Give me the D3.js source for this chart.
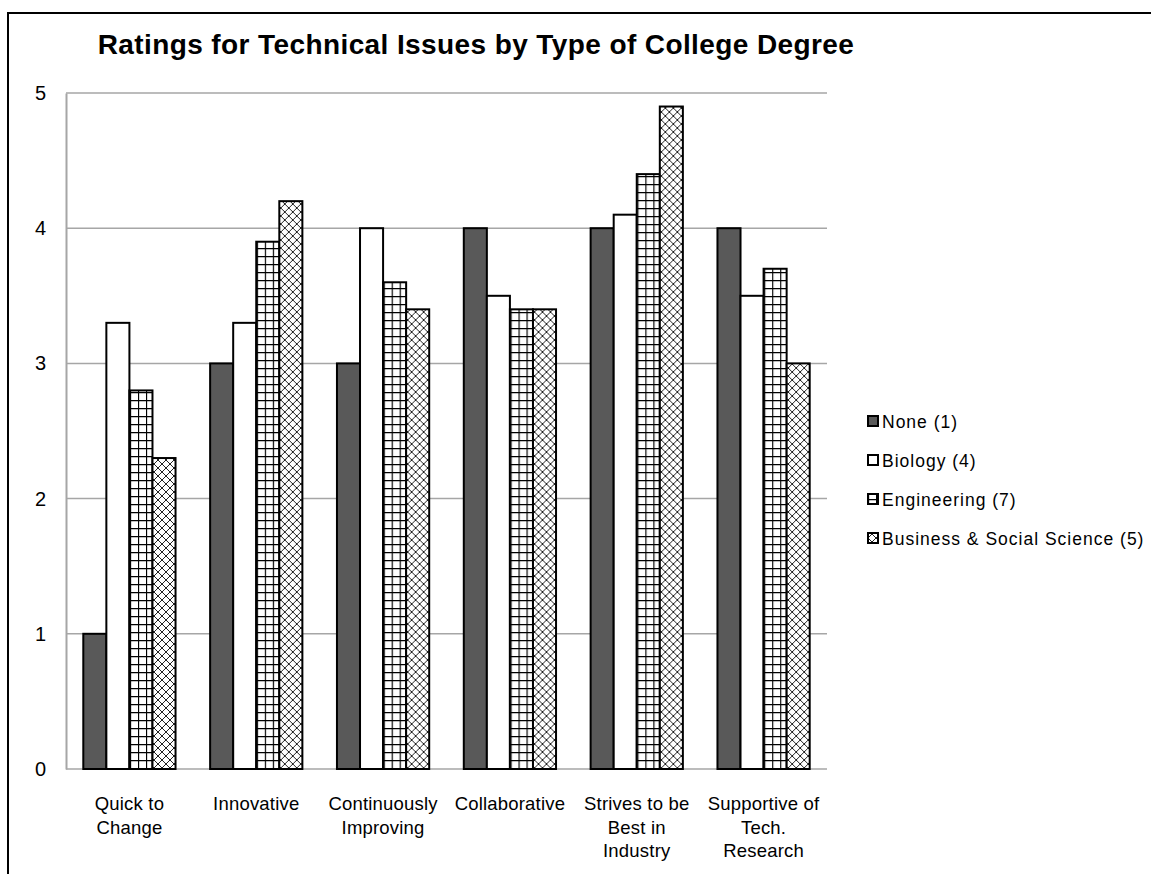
<!DOCTYPE html>
<html>
<head>
<meta charset="utf-8">
<script src="https://cdn.jsdelivr.net/npm/d3@7"></script>
<style>
  html, body { margin: 0; padding: 0; background: #fff; }
  svg { display: block; font-family: "Liberation Sans", Arial, sans-serif; }
</style>
</head>
<body>
<svg id="chart" width="1151" height="874"></svg>
<script>
// Survey ratings per characteristic, grouped by type of college degree
const categories = [
  "Quick to\nChange",
  "Innovative",
  "Continuously\nImproving",
  "Collaborative",
  "Strives to be\nBest in\nIndustry",
  "Supportive of\nTech.\nResearch"
];
const seriesNames = ["None (1)", "Biology (4)", "Engineering (7)", "Business & Social Science (5)"];
const noneValues        = [1.0, 3.0, 3.0, 4.0, 4.0, 4.0];
const biologyValues     = [3.3, 3.3, 4.0, 3.5, 4.1, 3.5];
const engineeringValues = [2.8, 3.9, 3.6, 3.4, 4.4, 3.7];
const businessValues    = [2.3, 4.2, 3.4, 3.4, 4.9, 3.0];
const yTicks = [0, 1, 2, 3, 4, 5];
const title = "Ratings for Technical Issues by Type of College Degree";

const seriesValues = [noneValues, biologyValues, engineeringValues, businessValues];

const svg = d3.select("#chart");

// fills: solid dark, plain white, small grid, diagonal cross-hatch
const defs = svg.append("defs");
const grid = defs.append("pattern").attr("id", "pat-grid")
  .attr("patternUnits", "userSpaceOnUse").attr("width", 8).attr("height", 8);
grid.append("rect").attr("width", 8).attr("height", 8).attr("fill", "#fff");
grid.append("path").attr("d", "M0,0.5H8M0.5,0V8").attr("stroke", "#000").attr("stroke-width", 1.3);

const cross = defs.append("pattern").attr("id", "pat-cross")
  .attr("patternUnits", "userSpaceOnUse").attr("width", 8).attr("height", 8);
cross.append("rect").attr("width", 8).attr("height", 8).attr("fill", "#fff");
cross.append("path").attr("d", "M0,0L8,8M0,8L8,0M-1,1L1,-1M7,9L9,7M-1,7L1,9M7,-1L9,1")
  .attr("stroke", "#222").attr("stroke-width", 1);

const fills = ["#595959", "#ffffff", "url(#pat-grid)", "url(#pat-cross)"];

// outer frame (open on the right and bottom edges of the page)
svg.append("path")
  .attr("d", "M1160,13H8V880")
  .attr("fill", "none").attr("stroke", "#000").attr("stroke-width", 2);

// title
svg.append("text")
  .attr("x", 476).attr("y", 54)
  .attr("text-anchor", "middle")
  .attr("font-size", 28).attr("font-weight", "bold")
  .attr("letter-spacing", 0.4)
  .attr("fill", "#000")
  .text(title);

const plot = { left: 66, right: 827, top: 93, bottom: 769 };

const x0 = d3.scaleBand()
  .domain(categories)
  .range([plot.left, plot.right])
  .padding(0);
// each category slot: gap of 1.5 bar widths split around four bars
const slot = x0.bandwidth();
const barW = slot / 5.5;
const x1 = d3.scaleBand()
  .domain(d3.range(seriesNames.length))
  .range([0.75 * barW, 0.75 * barW + 4 * barW])
  .padding(0);

const y = d3.scaleLinear().domain([0, 5]).range([plot.bottom, plot.top]);

// gridlines
svg.append("g")
  .selectAll("line")
  .data(yTicks.filter(t => t > 0))
  .join("line")
  .attr("x1", plot.left).attr("x2", plot.right)
  .attr("y1", d => y(d)).attr("y2", d => y(d))
  .attr("stroke", "#a6a6a6").attr("stroke-width", 1.5);

// y axis
const yAxis = svg.append("g")
  .attr("transform", `translate(${plot.left},0)`)
  .call(d3.axisLeft(y).tickValues(yTicks).tickSize(0).tickPadding(20).tickFormat(d3.format("d")));
yAxis.select(".domain").attr("stroke", "#a6a6a6").attr("stroke-width", 2);
yAxis.selectAll("text").attr("font-size", 20).attr("fill", "#000")
  .attr("font-family", "Liberation Sans, Arial, sans-serif");

// baseline
svg.append("line")
  .attr("x1", plot.left).attr("x2", plot.right)
  .attr("y1", y(0)).attr("y2", y(0))
  .attr("stroke", "#a6a6a6").attr("stroke-width", 1.5);

// bars
const groups = svg.append("g")
  .selectAll("g")
  .data(categories)
  .join("g")
  .attr("transform", d => `translate(${x0(d)},0)`);

groups.selectAll("rect")
  .data((d, i) => seriesValues.map((vals, s) => ({ s, v: vals[i] })))
  .join("rect")
  .attr("x", d => x1(d.s))
  .attr("width", x1.bandwidth())
  .attr("y", d => y(d.v))
  .attr("height", d => y(0) - y(d.v))
  .attr("fill", d => fills[d.s])
  .attr("stroke", "#000")
  .attr("stroke-width", 2);

// category labels
const catLabels = svg.append("g")
  .selectAll("text")
  .data(categories)
  .join("text")
  .attr("x", d => x0(d) + slot / 2)
  .attr("y", 810)
  .attr("text-anchor", "middle")
  .attr("font-size", 18.5)
  .attr("letter-spacing", 0.2)
  .attr("fill", "#000");
catLabels.each(function (d) {
  const t = d3.select(this);
  d.split("\n").forEach((line, i) => {
    t.append("tspan")
      .attr("x", x0(d) + slot / 2)
      .attr("dy", i === 0 ? 0 : 23.5)
      .text(line);
  });
});

// legend
const legend = svg.append("g");
const legendRows = legend.selectAll("g")
  .data(seriesNames)
  .join("g")
  .attr("transform", (d, i) => `translate(868, ${421 + i * 39})`);
legendRows.append("rect")
  .attr("x", 0).attr("y", -5)
  .attr("width", 10).attr("height", 10)
  .attr("fill", (d, i) => fills[i])
  .attr("stroke", "#000").attr("stroke-width", 2);
legendRows.append("text")
  .attr("x", 14).attr("y", 6.5)
  .attr("font-size", 17.5)
  .attr("letter-spacing", 1.0)
  .attr("fill", "#000")
  .text(d => d);
</script>
</body>
</html>
